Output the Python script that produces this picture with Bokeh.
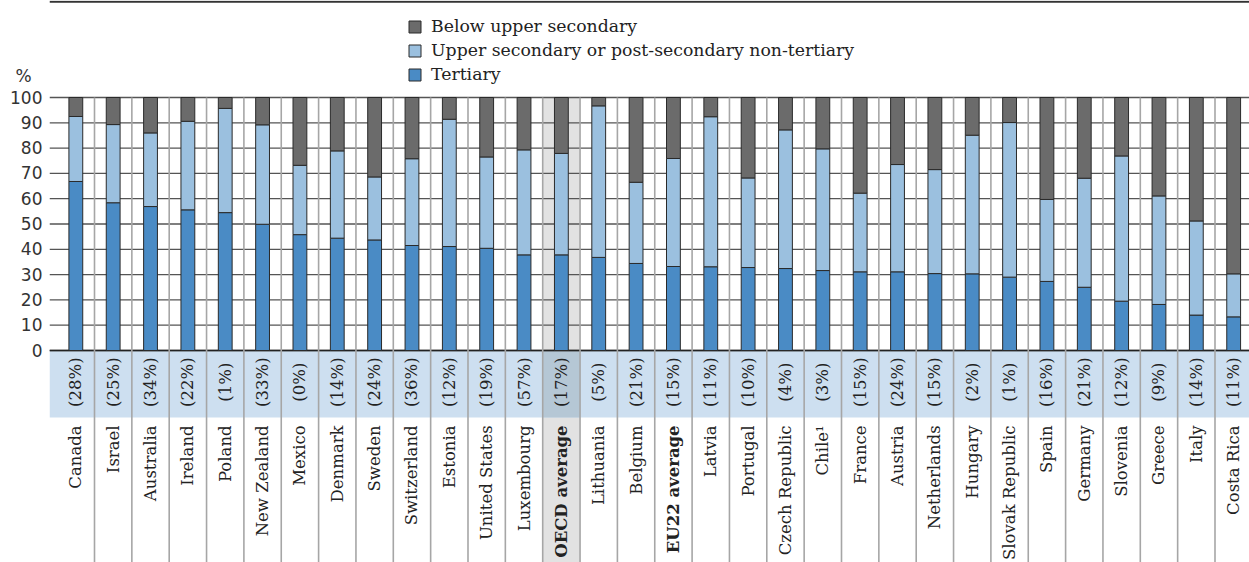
import numpy as np
from bokeh.plotting import figure
from bokeh.models import (ColumnDataSource, FixedTicker, Legend, LegendItem,
                          Range1d)
from bokeh.core.properties import value
from bokeh.embed import file_html
from bokeh.resources import INLINE

# ---------------- data ----------------
countries = ["Canada", "Israel", "Australia", "Ireland", "Poland", "New Zealand",
             "Mexico", "Denmark", "Sweden", "Switzerland", "Estonia",
             "United States", "Luxembourg", "OECD average", "Lithuania",
             "Belgium", "EU22 average", "Latvia", "Portugal", "Czech Republic",
             "Chile\u00b9", "France", "Austria", "Netherlands", "Hungary",
             "Slovak Republic", "Spain", "Germany", "Slovenia", "Greece",
             "Italy", "Costa Rica"]

tertiary = [66.8, 58.4, 56.9, 55.6, 54.5, 49.9, 45.8, 44.4, 43.7, 41.5, 41.1,
            40.4, 37.8, 37.8, 36.8, 34.4, 33.2, 33.1, 32.8, 32.4, 31.6, 31.1,
            31.1, 30.4, 30.3, 29.0, 27.3, 25.0, 19.5, 18.2, 14.0, 13.3]

upper_secondary = [25.7, 30.9, 29.1, 35.0, 41.2, 39.3, 27.4, 34.5, 24.9, 34.3,
                   50.3, 36.1, 41.5, 40.1, 59.9, 32.1, 42.7, 59.3, 35.4, 54.8,
                   48.1, 31.1, 42.4, 41.1, 54.8, 61.1, 32.4, 43.1, 57.4, 42.9,
                   37.2, 17.0]

below_upper_secondary = [7.5, 10.7, 14.0, 9.4, 4.3, 10.8, 26.8, 21.1, 31.4, 24.2,
                         8.6, 23.5, 20.7, 22.1, 3.3, 33.5, 24.1, 7.6, 31.8, 12.8,
                         20.3, 37.8, 26.5, 28.5, 14.9, 9.9, 40.3, 31.9, 23.1, 38.9,
                         48.8, 69.7]

share = [28, 25, 34, 22, 1, 33, 0, 14, 24, 36, 12, 19, 57, 17, 5, 21, 15, 11, 10,
         4, 3, 15, 24, 15, 2, 1, 16, 21, 12, 9, 14, 11]

y_ticks = [0, 10, 20, 30, 40, 50, 60, 70, 80, 90, 100]
unit_label = "%"
bold_labels = ["OECD average", "EU22 average"]
legend_labels = ["Below upper secondary",
                 "Upper secondary or post-secondary non-tertiary",
                 "Tertiary"]

# ---------------- layout ----------------
W, H = 1249, 562
LEFT = 49
PX = 2.53            # pixels per percentage point
Y0 = 350             # figure-pixel row of value 0
SLOT = 37.35         # pixels per category
y_max = Y0 / PX
y_min = -(H - Y0) / PX
x_min = -7.65 / SLOT
x_max = x_min + (W - LEFT) / SLOT
band_bottom = -26.5
pct_y = -12.5
label_y = -29.6
unit_pos = (Y0 - 75) / PX

C_TER = "#4a8bc5"
C_UPP = "#9bc0df"
C_BEL = "#6b6b6b"
SERIF = "DejaVu Serif"
FS = "16.5px"

n = len(countries)
xs = np.arange(n) + 0.5
src = ColumnDataSource(dict(x=xs, ter=tertiary, upp=upper_secondary,
                            bel=below_upper_secondary,
                            pct=["(%d%%)" % v for v in share],
                            name=countries))

p = figure(width=W, height=H, x_range=Range1d(x_min, x_max),
           y_range=Range1d(y_min, y_max), output_backend="svg",
           toolbar_location=None, x_axis_location=None,
           min_border_left=LEFT, min_border_right=0, min_border_top=0,
           min_border_bottom=0)
p.outline_line_color = None
p.ygrid.visible = False
p.xgrid.visible = False
p.background_fill_color = "white"

oecd_i = countries.index("OECD average")

# OECD column background
p.quad(left=[oecd_i], right=[oecd_i + 1], bottom=[y_min], top=[100],
       fill_color="#e2e2e2", line_color=None)
# label band
p.quad(left=[x_min], right=[x_max], bottom=[band_bottom], top=[0],
       fill_color="#cddff0", line_color=None)
p.quad(left=[oecd_i], right=[oecd_i + 1], bottom=[band_bottom], top=[0],
       fill_color="#b5c7d5", line_color=None)

# horizontal grid lines
p.segment(x0=[x_min] * len(y_ticks), x1=[x_max] * len(y_ticks),
          y0=y_ticks, y1=y_ticks, line_color="#555555", line_width=1.3)
p.segment(x0=[x_min], x1=[x_max], y0=[0], y1=[0], line_color="#222222",
          line_width=1.6)
# vertical separators
bounds = np.arange(1, n)
p.segment(x0=bounds, x1=bounds, y0=[y_min] * len(bounds), y1=[100] * len(bounds),
          line_color="#a6a6a6", line_width=1.6)
# top rule
p.segment(x0=[x_min], x1=[x_max], y0=[y_max - 0.45], y1=[y_max - 0.45],
          line_color="#333333", line_width=2)

# stacked bars
rs = p.vbar_stack(["ter", "upp", "bel"], x="x", width=0.37,
                  fill_color=[C_TER, C_UPP, C_BEL], line_color="#2a2a2a",
                  line_width=1, source=src)

# percentage labels
p.text(x="x", y=pct_y, text="pct", source=src, angle=np.pi / 2,
       text_align="center", text_baseline="middle", text_font=value(SERIF),
       text_font_size=FS, text_color="#222222")

# country labels
norm_idx = [i for i, c in enumerate(countries) if c not in bold_labels]
bold_idx = [i for i, c in enumerate(countries) if c in bold_labels]
p.text(x=[xs[i] for i in norm_idx], y=[label_y] * len(norm_idx),
       text=[countries[i] for i in norm_idx], angle=np.pi / 2,
       text_align="right", text_baseline="middle", text_font=value(SERIF),
       text_font_size=FS, text_color="#222222")
p.text(x=[xs[i] for i in bold_idx], y=[label_y] * len(bold_idx),
       text=[countries[i] for i in bold_idx], angle=np.pi / 2,
       text_align="right", text_baseline="middle", text_font=value(SERIF),
       text_font_size=FS, text_font_style="bold", text_color="#222222")

# y axis (with the unit sign shown as an extra labelled tick)
ax = p.yaxis[0]
ax.ticker = FixedTicker(ticks=y_ticks + [unit_pos])
ax.major_label_overrides = {unit_pos: unit_label + "\u00a0\u00a0"}
ax.axis_line_color = None
ax.major_tick_line_color = None
ax.minor_tick_line_color = None
ax.major_tick_out = 0
ax.major_tick_in = 0
ax.major_label_standoff = 7
ax.major_label_text_font = "DejaVu Sans"
ax.major_label_text_font_size = "17px"
ax.major_label_text_color = "#333333"

legend = Legend(items=[LegendItem(label=legend_labels[0], renderers=[rs[2]]),
                       LegendItem(label=legend_labels[1], renderers=[rs[1]]),
                       LegendItem(label=legend_labels[2], renderers=[rs[0]])],
                location=(358, H - 84), glyph_width=15, glyph_height=15,
                label_height=20, spacing=4, padding=0, margin=0,
                border_line_alpha=0, background_fill_alpha=0,
                label_text_font=SERIF, label_text_font_size="17.3px",
                label_text_color="#222222", label_standoff=9)
p.add_layout(legend)

open("out.html", "w").write(file_html(p, INLINE))
